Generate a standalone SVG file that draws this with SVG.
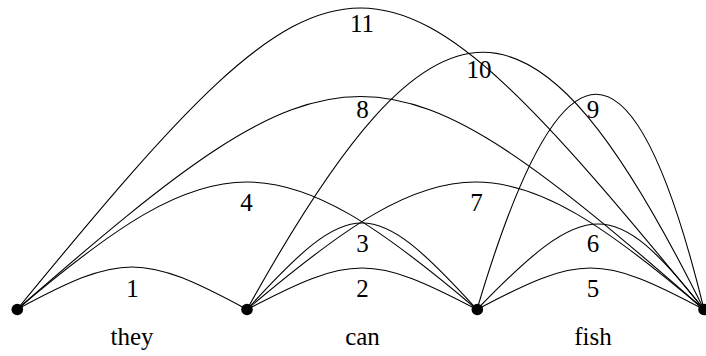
<svg xmlns="http://www.w3.org/2000/svg" width="706" height="356" viewBox="0 0 706 356">
<style>
.arc{fill:none;stroke:#000;stroke-width:1.1}
.dot{fill:#000}
text{font-family:"Liberation Serif","Times New Roman",serif;font-size:25px;fill:#000;text-anchor:middle}
</style>
<rect width="706" height="356" fill="#fff"/>
<g id="connectors">
<path id="e1" class="arc" d="M17 309.5 C122 252.8 142 252.8 247 309.5"/>
<path id="e2" class="arc" d="M247 309.5 C352 254.2 372 254.2 477 309.5"/>
<path id="e3" class="arc" d="M247 309.5 C352 194.2 372 194.2 477 309.5"/>
<path id="e4" class="arc" d="M17 309.5 C217 139.5 277 139.5 477 309.5"/>
<path id="e5" class="arc" d="M477 309.5 C581 254.2 600 254.2 704 309.5"/>
<path id="e6" class="arc" d="M477 309.5 C587 195.5 614 195.5 704 309.5"/>
<path id="e7" class="arc" d="M247 309.5 C447 139.5 504 139.5 704 309.5"/>
<path id="e8" class="arc" d="M17 309.5 C342 25.5 379 25.5 704 309.5"/>
<path id="e9" class="arc" d="M477 309.5 C562 22.5 634 22.5 704 309.5"/>
<path id="e10" class="arc" d="M247 309.5 C437 -33.5 534 -33.5 704 309.5"/>
<path id="e11" class="arc" d="M17 309.5 C347 -92.5 374 -92.5 704 309.5"/>
</g>
<g id="edge-labels">
<text x="132.5" y="297">1</text>
<text x="362.5" y="297">2</text>
<text x="362.5" y="252">3</text>
<text x="246.5" y="211">4</text>
<text x="593" y="297">5</text>
<text x="593" y="252">6</text>
<text x="476.5" y="210.5">7</text>
<text x="362.5" y="118">8</text>
<text x="593" y="118">9</text>
<text x="479" y="78">10</text>
<text x="362" y="32">11</text>
</g>
<g id="node-0"><circle class="dot" cx="17.3" cy="309.5" r="5.8"/></g>
<g id="node-1"><circle class="dot" cx="247" cy="309.5" r="5.8"/></g>
<g id="node-2"><circle class="dot" cx="477.3" cy="309.5" r="5.8"/></g>
<g id="node-3"><circle class="dot" cx="704" cy="309.5" r="5.8"/></g>
<g id="words">
<text x="132" y="345">they</text>
<text x="362.5" y="345">can</text>
<text x="593" y="345">fish</text>
</g>
</svg>
